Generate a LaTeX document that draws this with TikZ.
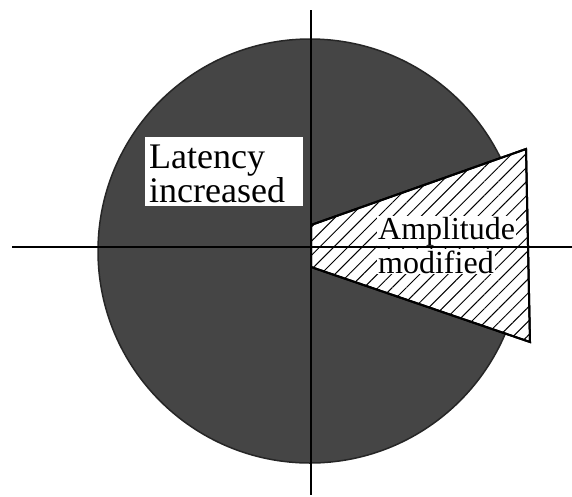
\documentclass[tikz,border=0pt]{standalone}
\usepackage{fontspec}
\setmainfont{Liberation Serif}
\usetikzlibrary{patterns.meta}
\definecolor{disc}{HTML}{454545}
\tikzset{
  axisline/.style={line width=2pt, black},
  wedgefill/.style={fill=white, draw=black, line width=2pt},
  hatch/.style={pattern={Lines[angle=45, distance=10pt, line width=1pt]}, pattern color=black},
  labelbox/.style={fill=white, inner sep=0pt, anchor=north west},
  latfont/.style={font=\fontsize{36}{36}\selectfont, anchor=base west, inner sep=0pt},
  ampfont/.style={fill=white, inner sep=1pt, anchor=base west, font=\fontsize{32}{34}\selectfont},
}
\begin{document}
\begin{tikzpicture}[x=1pt, y=-1pt]
\useasboundingbox (0,0) rectangle (572,496);
% disc
\fill[disc, draw=black!85, line width=1.5pt] (310,251) circle [radius=212];
% wedge
\path[wedgefill] (311,225) -- (526,149) -- (530,342) -- (311,267) -- cycle;
\path[hatch] (311,225) -- (526,149) -- (530,342) -- (311,267) -- cycle;
\draw[line width=2pt, line join=miter] (311,225) -- (526,149) -- (530,342) -- (311,267) -- cycle;
% labels
\node[labelbox, minimum width=158pt, minimum height=69pt] (lat) at (145,137) {};
\node[latfont] (lat1) at (149,168) {Latency};
\node[latfont] (lat2) at (149,202) {increased};
\node[ampfont] (amp1) at (377,239) {Amplitude};
\node[ampfont] (amp2) at (377,273) {modified};
% axes
\coordinate (xl) at (12,247);
\coordinate (xr) at (572,247);
\coordinate (yt) at (311,10);
\coordinate (yb) at (311,495);
\draw[axisline] (xl) -- (xr);
\draw[axisline] (yt) -- (yb);
\end{tikzpicture}
\end{document}
